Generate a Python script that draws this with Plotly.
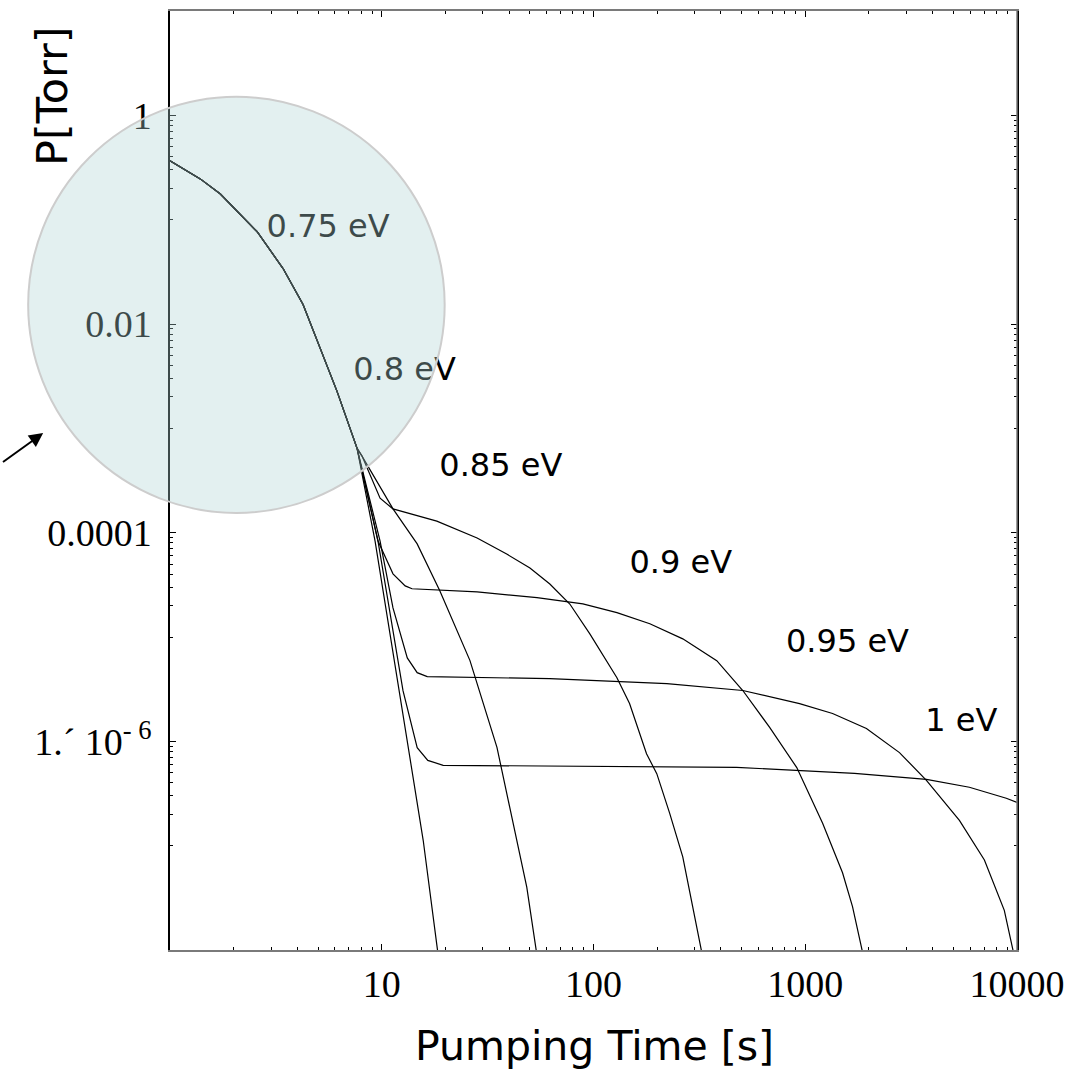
import plotly.graph_objects as go

# ---- data ----
trunk_t = [1.0, 1.39, 1.73, 2.58, 3.42, 4.25, 6.15, 7.64]
trunk_p = [0.366, 0.246, 0.176, 0.0766, 0.034, 0.0154, 0.00226, 6.46e-4]

t_075 = [9.3, 13.2, 15.7, 18.6]
p_075 = [8.3e-5, 1.02e-6, 1.12e-7, 8e-9]

t_080 = [8.07, 11.3, 14.7, 18.8, 26.1, 35.0, 48.4, 54.5]
p_080 = [5.42e-4, 1.69e-4, 7.8e-5, 2.77e-5, 5.94e-6, 8.75e-7, 4.0e-8, 8e-9]

t_085 = [8.07, 9.82, 11.3, 18.2, 28.2, 39.1, 50.1, 62.2, 77.3, 96.1, 129, 148, 178, 199, 229, 264, 294, 330]
p_085 = [5.42e-4, 2.14e-4, 1.69e-4, 1.29e-4, 8.9e-5, 6.2e-5, 4.58e-5, 3.22e-5, 2.07e-5, 1.07e-5,
         4.07e-6, 2.3e-6, 7.6e-7, 4.9e-7, 2.04e-7, 7.8e-8, 2.6e-8, 8e-9]

t_090 = [9.6, 11.3, 12.9, 13.9, 28.2, 54.1, 89.1, 129, 184.5, 264, 382, 507, 679, 912, 1208, 1500, 1672, 1900]
p_090 = [8.3e-5, 4.03e-5, 3.09e-5, 2.9e-5, 2.71e-5, 2.38e-5, 2.08e-5, 1.71e-5, 1.34e-5, 9.6e-6,
         5.93e-6, 3.07e-6, 1.36e-6, 5.6e-7, 1.64e-7, 5.5e-8, 2.6e-8, 8e-9]

t_095 = [9.82, 11.3, 13.2, 14.7, 16.4, 62.2, 222, 507, 940, 1346, 1945, 2786, 3735, 5346, 7015, 8710, 9800]
p_095 = [8.3e-5, 1.9e-5, 6.3e-6, 4.55e-6, 4.17e-6, 3.99e-6, 3.57e-6, 3.07e-6, 2.3e-6, 1.85e-6,
         1.33e-6, 7.8e-7, 4.23e-7, 1.75e-7, 7.3e-8, 2.4e-8, 8e-9]

t_100 = [9.6, 10.9, 12.6, 14.7, 16.5, 19.5, 474, 1708, 3735, 5957, 8900, 10000]
p_100 = [8.3e-5, 1.78e-5, 3.06e-6, 8.7e-7, 6.57e-7, 5.89e-7, 5.63e-7, 4.93e-7, 4.32e-7, 3.63e-7, 2.85e-7, 2.6e-7]

series_names = ["0.75 eV", "0.8 eV", "0.85 eV", "0.9 eV", "0.95 eV", "1 eV"]
series_t = [t_075, t_080, t_085, t_090, t_095, t_100]
series_p = [p_075, p_080, p_085, p_090, p_095, p_100]

# label positions (time, pressure)
label_t = [5.58, 12.81, 36.5, 258.1, 1583, 5458]
label_p = [0.0818, 0.003437, 4.155e-4, 4.91e-5, 8.63e-6, 1.486e-6]

x_tickvals = [10, 100, 1000, 10000]
x_ticktext = ["10", "100", "1000", "10000"]
y_tickvals = [1, 0.01, 0.0001, 1e-6]
y_ticktext = ["1", "0.01", "0.0001", "1.\u00b4 10<sup>- 6</sup>"]

x_minor = [m * 10 ** k for k in range(0, 4) for m in range(2, 10)]
y_minor = [m * 10.0 ** (2 * n - 1) for n in range(0, -5, -1) for m in range(1, 10)]

fig = go.Figure()
for name, tt, pp in zip(series_names, series_t, series_p):
    fig.add_trace(go.Scatter(
        x=trunk_t + tt, y=trunk_p + pp, mode="lines", name=name,
        line=dict(color="black", width=1.2), showlegend=False, hoverinfo="skip"))

fig.add_trace(go.Scatter(
    x=label_t, y=label_p, mode="text", text=series_names,
    textposition="middle center",
    textfont=dict(family="DejaVu Sans", size=32, color="black"),
    showlegend=False, hoverinfo="skip"))

tickfont = dict(family="Liberation Serif", size=38, color="black")

fig.update_xaxes(
    type="log", range=[0, 4], showgrid=False, zeroline=False,
    showline=True, linecolor="#7a7a7a", linewidth=1.5, mirror="allticks",
    tickmode="array", tickvals=x_tickvals, ticktext=x_ticktext,
    ticks="inside", ticklen=6, tickwidth=1, tickcolor="black",
    tickfont=tickfont, ticklabelstandoff=0,
    minor=dict(tickmode="array", tickvals=x_minor, ticks="inside", ticklen=3,
               tickwidth=1, tickcolor="black", showgrid=False),
)
fig.update_yaxes(
    type="log", range=[-8, 1], showgrid=False, zeroline=False,
    showline=True, linecolor="black", linewidth=1.5, mirror="allticks",
    tickmode="array", tickvals=y_tickvals, ticktext=y_ticktext,
    ticks="inside", ticklen=6, tickwidth=1, tickcolor="black",
    tickfont=tickfont, ticklabelstandoff=9,
    minor=dict(tickmode="array", tickvals=y_minor, ticks="inside", ticklen=3,
               tickwidth=1, tickcolor="black", showgrid=False),
)

# gray right frame edge
fig.add_shape(type="line", xref="paper", yref="paper", x0=1, x1=1, y0=0, y1=1,
              line=dict(color="#7a7a7a", width=1.5), layer="above")

# translucent highlight circle
fig.add_shape(type="circle", xref="paper", yref="paper",
              x0=-0.16745, x1=0.32429, y0=0.46546, y1=0.90861,
              fillcolor="rgba(174,211,211,0.35)",
              line=dict(color="rgba(205,205,205,1)", width=2), layer="above")

# arrow pointing at the circle
fig.add_annotation(xref="paper", yref="paper", x=-0.14976, y=0.55048,
                   ax=-52, ay=31, text=" ", showarrow=True,
                   arrowhead=2, arrowsize=1.4, arrowwidth=2, arrowcolor="black",
                   standoff=0)

# axis titles
fig.add_annotation(xref="paper", yref="paper", x=0.5012, y=-0.102,
                   text="Pumping Time [s]", showarrow=False,
                   xanchor="center", yanchor="middle",
                   font=dict(family="DejaVu Sans", size=41, color="black"))
fig.add_annotation(xref="paper", yref="paper", x=-0.1392, y=0.9086,
                   text="P[Torr]", showarrow=False, textangle=-90,
                   xanchor="center", yanchor="middle",
                   font=dict(family="DejaVu Sans", size=43, color="black"))

fig.update_layout(
    width=1074, height=1070,
    margin=dict(l=170, r=56, t=9, b=120, pad=0),
    paper_bgcolor="white", plot_bgcolor="white",
    showlegend=False,
)

fig.write_html("out.html", config={"displayModeBar": False},
               post_script="document.body.style.margin='0';")
